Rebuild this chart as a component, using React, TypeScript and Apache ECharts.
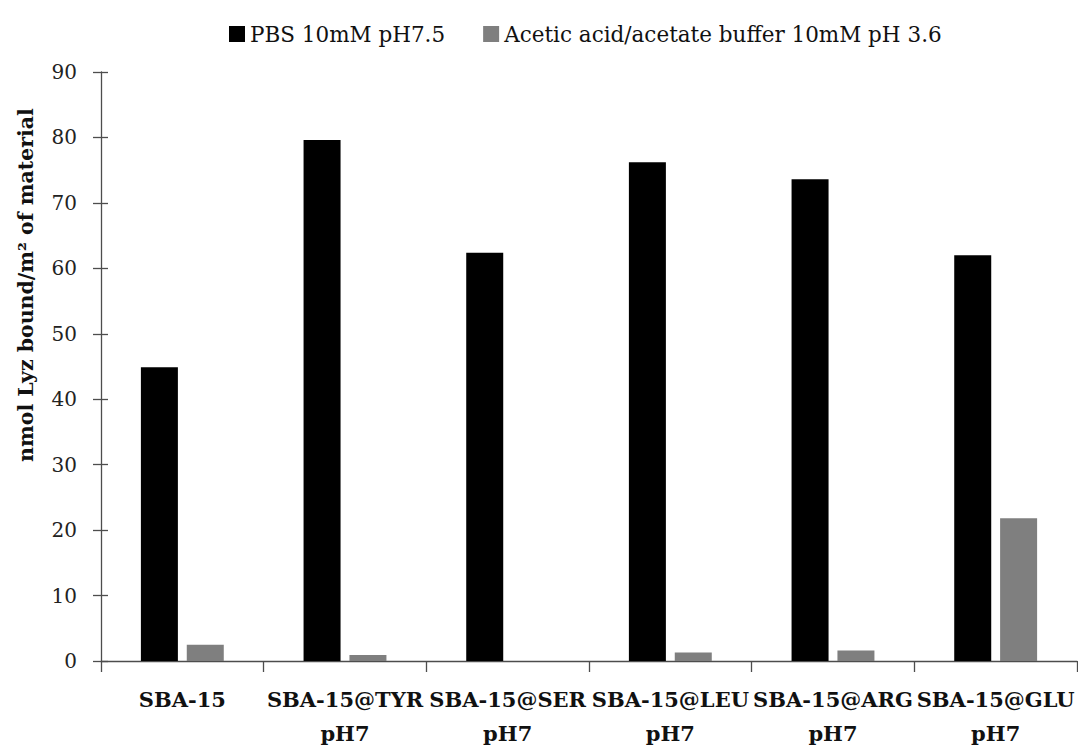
import React, { useEffect, useRef } from "react";
import * as echarts from "echarts";

const categories = [
  "SBA-15",
  "SBA-15@TYR\npH7",
  "SBA-15@SER\npH7",
  "SBA-15@LEU\npH7",
  "SBA-15@ARG\npH7",
  "SBA-15@GLU\npH7",
];
const seriesNames = ["PBS 10mM pH7.5", "Acetic acid/acetate buffer 10mM pH 3.6"];
const pbsValues = [44.9, 79.6, 62.4, 76.2, 73.6, 62.0];
const acetateValues = [2.5, 0.9, 0, 1.3, 1.6, 21.8];
const yAxisTitle = "nmol Lyz bound/m² of material";

const FONT = "DejaVu Serif";

export default function App() {
  const ref = useRef<HTMLDivElement>(null);
  useEffect(() => {
    if (!ref.current) return;
    const chart = echarts.init(ref.current, undefined, { renderer: "svg" });
    const axisColor = "#4d4d4d";
    chart.setOption({
      animation: false,
      backgroundColor: "#ffffff",
      textStyle: { fontFamily: FONT },
      legend: {
        left: 224,
        top: 18,
        itemWidth: 16,
        itemHeight: 16,
        itemGap: 38,
        icon: "rect",
        textStyle: { fontFamily: FONT, fontSize: 21.5, color: "#111" },
        data: seriesNames,
      },
      grid: {
        left: 101,
        right: 1,
        top: 72,
        bottom: 85,
        containLabel: false,
        outerBoundsMode: "none",
      },
      graphic: [
        {
          type: "text",
          x: 26,
          y: 285,
          rotation: Math.PI / 2,
          style: {
            text: yAxisTitle,
            fontFamily: FONT,
            fontSize: 20.5,
            fontWeight: "bold",
            fill: "#111",
            textAlign: "center",
            textVerticalAlign: "middle",
          },
        },
      ],
      xAxis: {
        type: "category",
        data: categories,
        boundaryGap: true,
        axisLine: { lineStyle: { color: axisColor, width: 1.3 } },
        axisTick: { show: true, alignWithLabel: false, length: 11, lineStyle: { color: axisColor, width: 1.3 } },
        axisLabel: {
          interval: 0,
          margin: 21,
          fontFamily: FONT,
          fontSize: 21,
          fontWeight: "bold",
          lineHeight: 34,
          color: "#111",
        },
      },
      yAxis: [
        {
          type: "value",
          min: 0,
          max: 90,
          interval: 10,
          splitLine: { show: false },
          axisLine: { show: true, lineStyle: { color: axisColor, width: 1.3 } },
          axisTick: { show: true, length: 8, lineStyle: { color: axisColor, width: 1.3 } },
          axisLabel: { margin: 24, fontFamily: FONT, fontSize: 20, color: "#222" },
        },
        {
          type: "value",
          position: "left",
          min: 0,
          max: 90,
          interval: 10,
          splitLine: { show: false },
          axisLine: { show: false },
          axisTick: { show: true, inside: true, length: 7, lineStyle: { color: axisColor, width: 1.3 } },
          axisLabel: { show: false },
        },
      ],
      series: [
        {
          name: seriesNames[0],
          type: "bar",
          data: pbsValues,
          barWidth: 37,
          barGap: "24%",
          itemStyle: { color: "#000000" },
        },
        {
          name: seriesNames[1],
          type: "bar",
          data: acetateValues,
          barWidth: 37,
          itemStyle: { color: "#7f7f7f" },
        },
      ],
    });
    return () => chart.dispose();
  }, []);
  return (
    <div
      ref={ref}
      style={{ position: "fixed", left: 0, top: 0, width: 1078, height: 746, background: "#fff" }}
    />
  );
}
